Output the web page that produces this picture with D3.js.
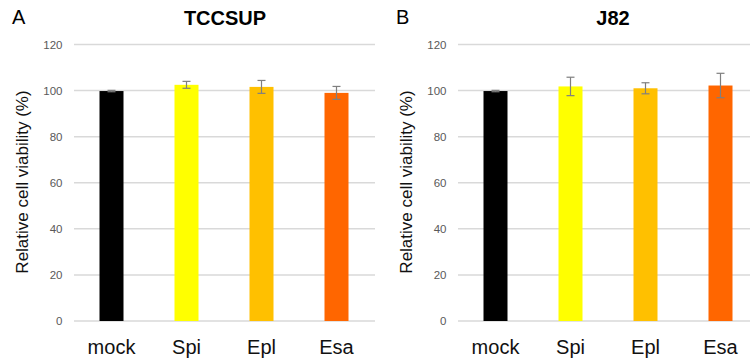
<!DOCTYPE html>
<html>
<head>
  <meta charset="utf-8">
  <script src="https://d3js.org/d3.v7.min.js"></script>
  <style>
    body { margin: 0; background: #fff; }
    svg { display: block; font-family: "Liberation Sans", Arial, sans-serif; }
  </style>
</head>
<body>
<script>
  // data
  var categories = ["mock", "Spi", "Epl", "Esa"];
  var colors = ["#000000", "#ffff00", "#ffc000", "#ff6600"];
  var yTicks = [0, 20, 40, 60, 80, 100, 120];

  var tccsupMean = [99.8, 102.5, 101.6, 99.0];
  var tccsupErr  = [0.3, 1.5, 2.8, 2.8];
  var j82Mean    = [99.8, 101.8, 101.0, 102.2];
  var j82Err     = [0.3, 4.0, 2.4, 5.3];

  var svg = d3.select("body").append("svg")
      .attr("width", 750)
      .attr("height", 362);

  function drawPanel(letter, title, titleX, means, errs, x0) {
    var g = svg.append("g").attr("transform", "translate(" + x0 + ",0)");
    var plotLeft = 74, plotRight = 374, top = 44.5, bottom = 321;

    var x = d3.scaleBand().domain(categories).range([plotLeft, plotRight]);
    var y = d3.scaleLinear().domain([0, 120]).range([bottom, top]);

    // gridlines
    g.selectAll("line.grid").data(yTicks).enter().append("line")
      .attr("class", "grid")
      .attr("x1", plotLeft).attr("x2", plotRight + 1)
      .attr("y1", function(d) { return y(d); })
      .attr("y2", function(d) { return y(d); })
      .attr("stroke", "#d9d9d9")
      .attr("stroke-width", 1.5);

    // y tick labels
    g.selectAll("text.tick").data(yTicks).enter().append("text")
      .attr("x", 62.5)
      .attr("y", function(d) { return y(d); })
      .attr("dy", "0.35em")
      .attr("text-anchor", "end")
      .attr("font-size", 11.5)
      .attr("fill", "#595959")
      .text(function(d) { return d; });

    var bw = 24;
    // bars
    g.selectAll("rect.bar").data(means).enter().append("rect")
      .attr("x", function(d, i) { return x(categories[i]) + x.bandwidth() / 2 - bw / 2; })
      .attr("width", bw)
      .attr("y", function(d) { return y(d); })
      .attr("height", function(d) { return y(0) - y(d); })
      .attr("fill", function(d, i) { return colors[i]; });

    // error bars
    var eb = g.selectAll("g.err").data(means).enter().append("g")
      .attr("stroke", "#7f7f7f").attr("stroke-width", 1.2);
    eb.append("line")
      .attr("x1", function(d, i) { return x(categories[i]) + x.bandwidth() / 2; })
      .attr("x2", function(d, i) { return x(categories[i]) + x.bandwidth() / 2; })
      .attr("y1", function(d, i) { return y(d + errs[i]); })
      .attr("y2", function(d, i) { return y(d - errs[i]); });
    [1, -1].forEach(function(s) {
      eb.append("line")
        .attr("x1", function(d, i) { return x(categories[i]) + x.bandwidth() / 2 - 4; })
        .attr("x2", function(d, i) { return x(categories[i]) + x.bandwidth() / 2 + 4; })
        .attr("y1", function(d, i) { return y(d + s * errs[i]); })
        .attr("y2", function(d, i) { return y(d + s * errs[i]); });
    });

    // category labels
    g.selectAll("text.cat").data(categories).enter().append("text")
      .attr("x", function(d) { return x(d) + x.bandwidth() / 2; })
      .attr("y", 354)
      .attr("text-anchor", "middle")
      .attr("font-size", 20)
      .attr("fill", "#111")
      .text(function(d) { return d; });

    // y axis title
    g.append("text")
      .attr("transform", "translate(28,182) rotate(-90)")
      .attr("text-anchor", "middle")
      .attr("font-size", 17)
      .attr("fill", "#111")
      .text("Relative cell viability (%)");

    // panel title
    g.append("text")
      .attr("x", titleX)
      .attr("y", 25)
      .attr("text-anchor", "middle")
      .attr("font-size", 20)
      .attr("font-weight", "bold")
      .attr("fill", "#000")
      .text(title);

    // panel letter
    g.append("text")
      .attr("x", 12)
      .attr("y", 24)
      .attr("font-size", 20)
      .attr("fill", "#000")
      .text(letter);
  }

  drawPanel("A", "TCCSUP", 225, tccsupMean, tccsupErr, 0);
  drawPanel("B", "J82", 229, j82Mean, j82Err, 384);
</script>
</body>
</html>
